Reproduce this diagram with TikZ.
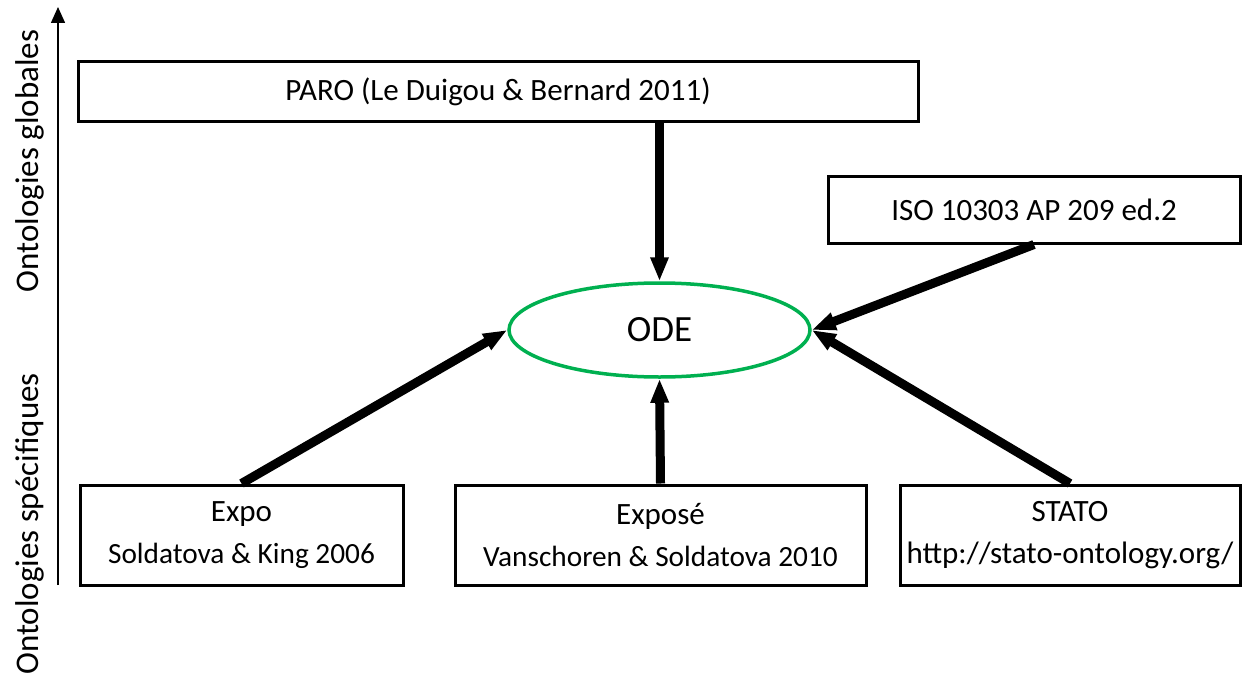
\documentclass[tikz,border=0pt]{standalone}
\usepackage{fontspec}
\setmainfont{Carlito}
\usetikzlibrary{arrows.meta,shapes.geometric}
\definecolor{odegreen}{RGB}{0,176,80}
\newcommand{\smallline}{\fontsize{29.3}{42}\selectfont}
\begin{document}
\begin{tikzpicture}[x=1pt,y=-1pt,
  box/.style={draw=black,line width=3pt,inner sep=0pt,align=center,font=\fontsize{31}{42}\selectfont},
  big/.style={line width=9pt,-{Triangle[width=17pt,length=24pt]}},
  axlabel/.style={rotate=90,font=\fontsize{33}{40}\selectfont}]
\useasboundingbox (0,0) rectangle (1244,677);
% axis
\coordinate (axb) at (58,585);
\coordinate (axt) at (58,7);
\draw[line width=1.5pt,-{Triangle[width=14pt,length=16pt]}] (axb) -- (axt);
\node[axlabel] (glob) at (30,161) {Ontologies globales};
\node[axlabel] (spec) at (30,524) {Ontologies spécifiques};
% boxes
\node[box,minimum width=840pt,minimum height=59pt] (paro) at (498,91.5) {PARO (Le Duigou \& Bernard 2011)};
\node[box,minimum width=412pt,minimum height=67pt] (iso) at (1034,209.5) {ISO 10303 AP 209 ed.2};
\node[draw=odegreen,line width=3.5pt,ellipse,minimum width=301pt,minimum height=94pt,inner sep=0pt,font=\fontsize{37}{44}\selectfont] (ode) at (659.5,330) {ODE};
\node[box,minimum width=323pt,minimum height=100pt] (expo) at (241.5,535) {Expo\\{\smallline Soldatova \& King 2006}};
\node[box,minimum width=411pt,minimum height=100pt] (expose) at (660.5,535) {Exposé\\{\smallline Vanschoren \& Soldatova 2010}};
\node[box,minimum width=340pt,minimum height=100pt] (stato) at (1070,535) {STATO\\http://stato-ontology.org/};
% arrows
\draw[big] (ode.north |- paro.south) -- (ode.north);
\draw[big] (iso.south) -- (ode.east);
\draw[big] (expo.north) -- (ode.west);
\draw[big] (expose.north) -- (ode.south);
\draw[big] (stato.north) -- (ode.east);
\end{tikzpicture}
\end{document}
